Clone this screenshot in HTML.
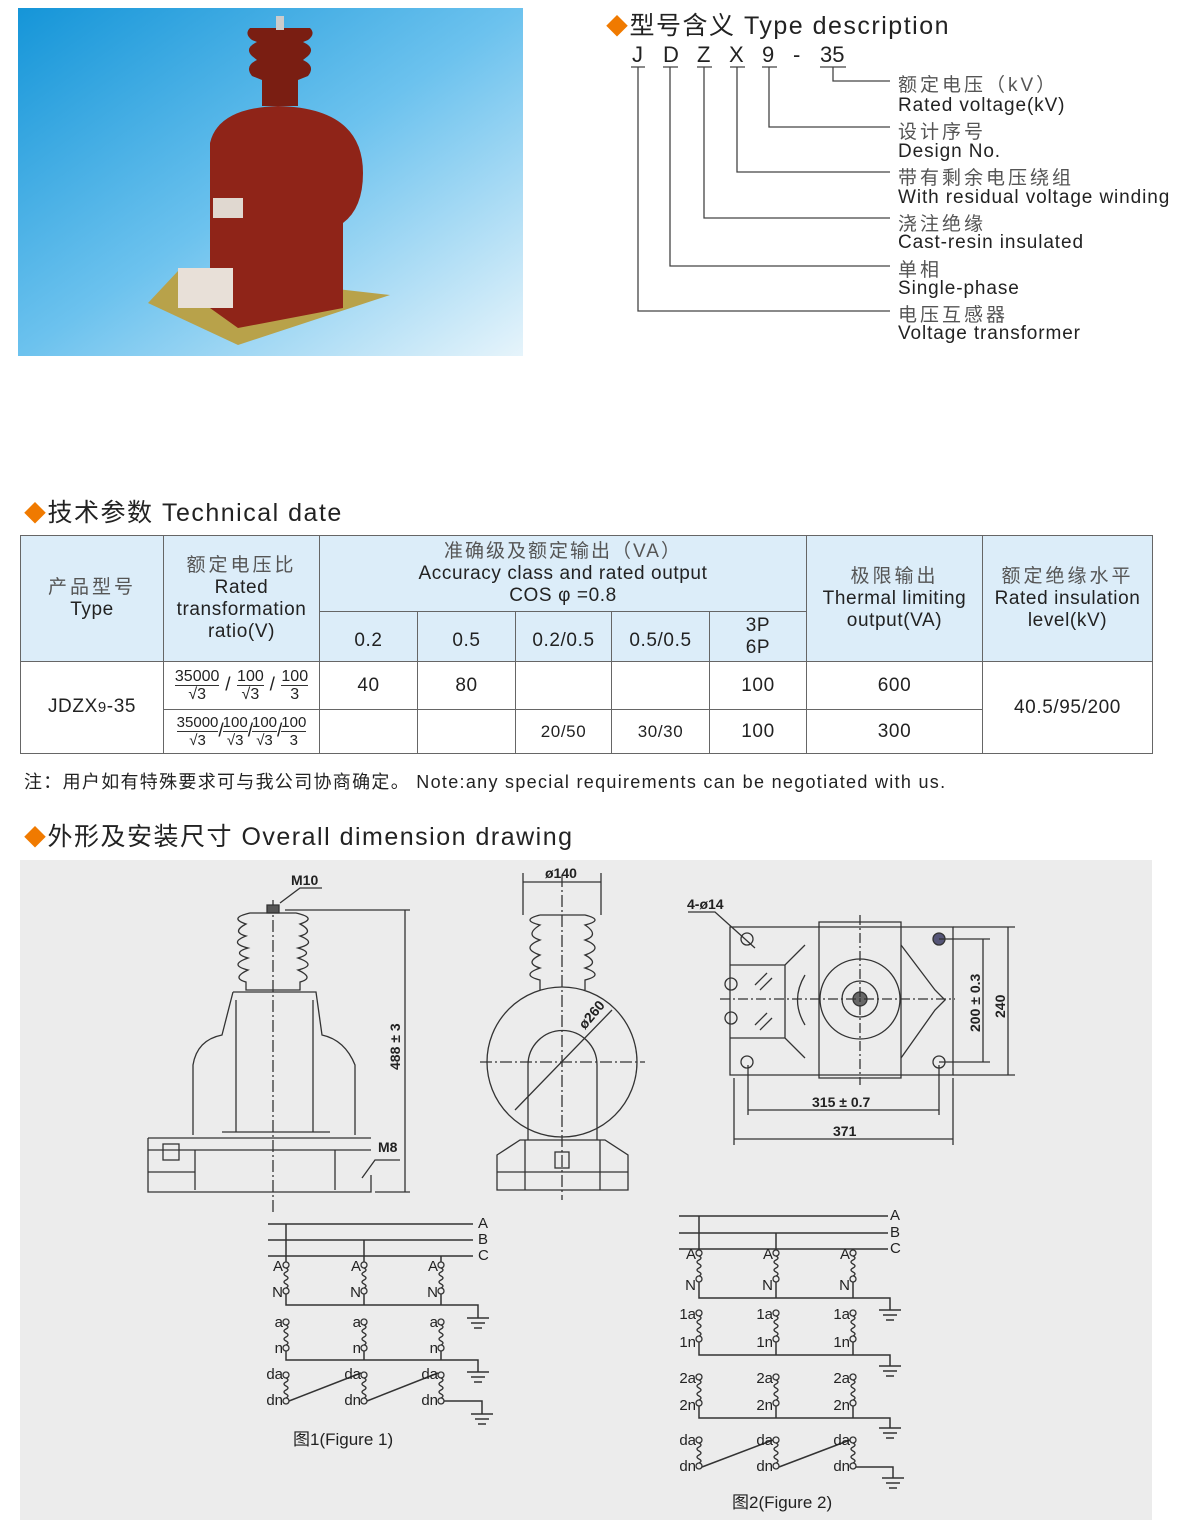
<!DOCTYPE html>
<html><head><meta charset="utf-8"><style>
body{margin:0;width:1200px;height:1520px;background:#fff;position:relative;overflow:hidden;font-family:"Liberation Sans","Noto Sans CJK SC",sans-serif;color:#222}
.a{position:absolute;white-space:nowrap}
.h{font-size:25px;color:#222;letter-spacing:1.5px}
.d{color:#f07a00;font-size:22px}
.lbl{font-size:19px;color:#222;letter-spacing:0.9px}
.cn{color:#555;letter-spacing:3px}
table{position:absolute;left:20px;top:535px;border-collapse:collapse;font-size:19px;color:#222;letter-spacing:0.6px}
td{border:1px solid #666;text-align:center;padding:0;line-height:22px}
.hd{background:#dcedf9}
.fr{display:inline-block;vertical-align:middle;text-align:center;font-size:16px;line-height:17px;letter-spacing:0}
.fr span{display:block;border-top:1px solid #333}
</style></head><body>

<!-- photo -->
<svg class="a" style="left:18px;top:8px" width="505" height="348">
<defs><linearGradient id="bg" x1="0" y1="0" x2="1" y2="1"><stop offset="0" stop-color="#1595d8"/><stop offset="0.5" stop-color="#6cc2ee"/><stop offset="1" stop-color="#e6f4fb"/></linearGradient></defs>
<rect width="505" height="348" fill="url(#bg)"/>
<polygon points="130,295 160,263 372,287 220,337" fill="#b8a24a"/>
<path d="M192,135 Q200,100 260,98 Q345,100 345,165 Q345,200 325,215 L325,300 L220,320 L192,300 Z" fill="#8f2418"/>
<rect x="160" y="260" width="55" height="40" fill="#e8e0d8"/>
<rect x="195" y="190" width="30" height="20" fill="#e0d8d0"/>
<path d="M232,20 L292,20 Q298,26 290,32 L285,34 Q298,40 290,48 L285,52 Q298,58 290,68 L280,72 L280,98 L244,98 L244,72 L234,68 Q226,58 239,52 L234,48 Q226,40 239,34 L234,32 Q226,26 232,20Z" fill="#7a1e12"/>
<rect x="258" y="8" width="8" height="14" fill="#ccc"/>
</svg>

<!-- type description -->
<div class="a h" style="left:606px;top:6px"><span class="d">◆</span>型号含义 Type description</div>
<div class="a" style="left:632px;top:42px;font-size:22px;color:#222">J</div>
<div class="a" style="left:663px;top:42px;font-size:22px">D</div>
<div class="a" style="left:697px;top:42px;font-size:22px">Z</div>
<div class="a" style="left:729px;top:42px;font-size:22px">X</div>
<div class="a" style="left:762px;top:42px;font-size:22px">9</div>
<div class="a" style="left:793px;top:42px;font-size:22px">-</div>
<div class="a" style="left:820px;top:42px;font-size:22px">35</div>
<svg class="a" style="left:0;top:0" width="1200" height="360">
<g stroke="#444" stroke-width="1.3" fill="none">
<path d="M631,67h14 M663,67h15 M697,67h15 M730,67h15 M762,67h15 M820,67h26"/>
<path d="M638,67V311H890 M670,67V266H890 M704,67V218H890 M737,67V172H890 M769,67V127H890 M833,67V81H890"/>
</g></svg>
<div class="a lbl cn" style="left:898px;top:70px">额定电压（kV）</div>
<div class="a lbl" style="left:898px;top:95px">Rated voltage(kV)</div>
<div class="a lbl cn" style="left:898px;top:117px">设计序号</div>
<div class="a lbl" style="left:898px;top:141px">Design No.</div>
<div class="a lbl cn" style="left:898px;top:163px">带有剩余电压绕组</div>
<div class="a lbl" style="left:898px;top:187px">With residual voltage winding</div>
<div class="a lbl cn" style="left:898px;top:209px">浇注绝缘</div>
<div class="a lbl" style="left:898px;top:232px">Cast-resin insulated</div>
<div class="a lbl cn" style="left:898px;top:255px">单相</div>
<div class="a lbl" style="left:898px;top:278px">Single-phase</div>
<div class="a lbl cn" style="left:898px;top:300px">电压互感器</div>
<div class="a lbl" style="left:898px;top:323px">Voltage transformer</div>

<div class="a h" style="left:24px;top:493px"><span class="d">◆</span>技术参数 Technical date</div>

<table>
<tr style="height:76px">
<td class="hd" rowspan="2" style="width:142px"><span style="color:#555;letter-spacing:3px">产品型号</span><br>Type</td>
<td class="hd" rowspan="2" style="width:155px"><span style="color:#555;letter-spacing:3px">额定电压比</span><br>Rated<br>transformation<br>ratio(V)</td>
<td class="hd" colspan="5"><span style="color:#555;letter-spacing:2px">准确级及额定输出（VA）</span><br>Accuracy class and rated output<br>COS φ =0.8</td>
<td class="hd" rowspan="2" style="width:175px"><span style="color:#555;letter-spacing:3px">极限输出</span><br>Thermal limiting<br>output(VA)</td>
<td class="hd" rowspan="2" style="width:169px"><span style="color:#555;letter-spacing:3px">额定绝缘水平</span><br>Rated insulation<br>level(kV)</td>
</tr>
<tr style="height:50px">
<td class="hd" style="width:97px;padding-top:8px">0.2</td><td class="hd" style="width:97px;padding-top:8px">0.5</td><td class="hd" style="width:95px;padding-top:8px">0.2/0.5</td><td class="hd" style="width:97px;padding-top:8px">0.5/0.5</td><td class="hd" style="width:96px">3P<br>6P</td>
</tr>
<tr style="height:48px">
<td rowspan="2">JDZX<span style="font-size:15px">9</span>-35</td>
<td><span class="fr">35000<span>√3</span></span> / <span class="fr">100<span>√3</span></span> / <span class="fr">100<span>3</span></span></td>
<td>40</td><td>80</td><td></td><td></td><td>100</td><td>600</td>
<td rowspan="2">40.5/95/200</td>
</tr>
<tr style="height:44px">
<td style="letter-spacing:-1px"><span class="fr" style="font-size:15px">35000<span>√3</span></span>/<span class="fr" style="font-size:15px">100<span>√3</span></span>/<span class="fr" style="font-size:15px">100<span>√3</span></span>/<span class="fr" style="font-size:15px">100<span>3</span></span></td>
<td></td><td></td><td style="font-size:17px">20/50</td><td style="font-size:17px">30/30</td><td>100</td><td>300</td>
</tr>
</table>

<div class="a" style="left:24px;top:768px;font-size:18px;letter-spacing:1.3px">注：用户如有特殊要求可与我公司协商确定。 Note:any special requirements can be negotiated with us.</div>
<div class="a h" style="left:24px;top:817px"><span class="d">◆</span>外形及安装尺寸 Overall dimension drawing</div>

<svg class="a" style="left:0;top:0" width="1200" height="1520" font-family="Liberation Sans, sans-serif">
<defs>
<g id="coil" fill="none" stroke="#333" stroke-width="1.3">
<circle cx="0" cy="0" r="3" fill="#ececec"/>
<path d="M0,3 q4,2 0,4 q-4,2 0,4 q4,2 0,4 q-4,2 0,4 q4,2 0,4"/>
<circle cx="0" cy="26" r="3" fill="#ececec"/>
</g>
<g id="gnd" stroke="#333" stroke-width="1.5"><path d="M-11,0h22 M-7,5h14 M-4,10h8"/></g>
</defs>
<rect x="20" y="860" width="1132" height="660" fill="#ececec"/>
<g stroke="#333" stroke-width="1.3" fill="none">
<!-- side view -->
<path d="M273,900V1215" stroke-dasharray="12,3,2,3"/>
<path d="M267,905h12v8h-12z" fill="#555"/>
<path d="M250,913 L296,913 Q318,918 300,924 Q315,932 300,936 Q318,943 298,948 Q315,953 298,958 Q318,965 298,970 Q315,978 300,982 L300,990 L246,990 L246,982 Q231,978 248,970 Q228,965 248,958 Q231,953 248,948 Q228,943 246,936 Q231,932 246,924 Q228,918 250,913Z"/>
<path d="M233,992 L316,992 L322,1035 Q345,1040 355,1065 L355,1135 M233,992 L222,1035 Q197,1040 193,1065 L193,1135"/>
<path d="M236,1000V1132 M313,1000V1132 M222,1132H330"/>
<path d="M148,1138H371 M148,1150H371 M148,1138V1192H371V1175 M195,1150V1190 M335,1150V1190 M148,1172H195"/>
<rect x="163" y="1144" width="16" height="16"/>
<path d="M280,903 L300,888 H322 M362,1178 L375,1160 H400"/>
<path d="M285,910H410 M375,1192H410 M405,910V1192"/>
<!-- front view -->
<path d="M562,875V1200" stroke-dasharray="12,3,2,3"/>
<path d="M480,1062H645" stroke-dasharray="12,3,2,3"/>
<path d="M523,873V915 M601,873V915 M523,882H601"/>
<path d="M540,915 L585,915 Q605,920 585,925 Q600,935 585,940 Q605,948 585,955 Q600,963 585,968 Q605,975 585,980 L585,990 M540,915 Q520,920 540,925 Q524,935 540,940 Q520,948 540,955 Q524,963 540,968 Q520,975 540,980 L540,990"/>
<circle cx="562" cy="1062" r="75"/>
<path d="M528,1140 V1065 A34,34 0 0,1 597,1065 V1140"/>
<path d="M515,1110 L612,1010"/>
<path d="M497,1155 L520,1140 H605 L628,1155 V1190 H497Z M497,1172H628 M525,1140V1190 M600,1140V1190"/>
<rect x="555" y="1152" width="14" height="16"/>
<!-- top view -->
<path d="M730,927H953V1075H730Z M819,922H901V1078H819Z"/>
<path d="M730,965H785L805,945 M730,1038H785L805,1058 M785,965V1038 M901,945 L935,990 L945,1000 L935,1010 L901,1058 M805,975 Q790,1000 805,1025"/>
<circle cx="860" cy="999" r="40"/><circle cx="860" cy="999" r="18"/><circle cx="860" cy="999" r="7" fill="#666"/>
<path d="M860,915V1085 M720,999H955" stroke-dasharray="10,3,2,3"/>
<circle cx="747" cy="939" r="6"/><circle cx="939" cy="939" r="6" fill="#557"/><circle cx="747" cy="1062" r="6"/><circle cx="939" cy="1062" r="6"/>
<circle cx="731" cy="984" r="6"/><circle cx="731" cy="1018" r="6"/>
<path d="M755,985l12,-12 M760,990l12,-12 M755,1025l12,-12 M760,1030l12,-12"/>
<path d="M688,912H715 L755,948"/>
<path d="M939,939H990 M939,1062H990 M983,939V1062 M953,927H1015 M953,1075H1015 M1008,927V1075"/>
<path d="M748,1065V1115 M939,1065V1115 M748,1110H939 M734,1078V1145 M953,1078V1145 M734,1139H953"/>
</g>
<g font-size="14" fill="#222" font-weight="bold">
<text x="291" y="885">M10</text><text x="378" y="1152">M8</text>
<text x="400" y="1070" transform="rotate(-90 400 1070)">488 ± 3</text>
<text x="545" y="878">ø140</text>
<text x="585" y="1030" transform="rotate(-50 585 1030)">ø260</text>
<text x="687" y="909">4-ø14</text>
<text x="812" y="1107">315 ± 0.7</text><text x="833" y="1136">371</text>
<text x="980" y="1032" transform="rotate(-90 980 1032)">200 ± 0.3</text>
<text x="1005" y="1018" transform="rotate(-90 1005 1018)">240</text>
</g>
<!-- figure 1 -->
<g stroke="#333" stroke-width="1.5" fill="none">
<path d="M268,1224H473 M268,1240H473 M268,1256H473"/>
<path d="M286,1224V1262 M364,1240V1262 M441,1256V1262"/>
<path d="M286,1294V1305H478V1318 M364,1294V1305 M441,1294V1305"/>
<path d="M286,1348V1360H478V1372 M364,1348V1360 M441,1348V1360"/>
<path d="M289,1401L361,1373 M367,1401L438,1373 M444,1401H482V1414"/>
</g>
<use href="#gnd" x="478" y="1318"/><use href="#gnd" x="478" y="1372"/><use href="#gnd" x="482" y="1414"/>
<use href="#coil" x="286" y="1265"/><use href="#coil" x="364" y="1265"/><use href="#coil" x="441" y="1265"/>
<use href="#coil" x="286" y="1322"/><use href="#coil" x="364" y="1322"/><use href="#coil" x="441" y="1322"/>
<use href="#coil" x="286" y="1375"/><use href="#coil" x="364" y="1375"/><use href="#coil" x="441" y="1375"/>
<g font-size="15" fill="#222" text-anchor="end">
<text x="478" y="1228" text-anchor="start">A</text><text x="478" y="1244" text-anchor="start">B</text><text x="478" y="1260" text-anchor="start">C</text>
<text x="283" y="1271">A</text><text x="361" y="1271">A</text><text x="438" y="1271">A</text>
<text x="283" y="1297">N</text><text x="361" y="1297">N</text><text x="438" y="1297">N</text>
<text x="283" y="1327">a</text><text x="361" y="1327">a</text><text x="438" y="1327">a</text>
<text x="283" y="1353">n</text><text x="361" y="1353">n</text><text x="438" y="1353">n</text>
<text x="283" y="1379">da</text><text x="361" y="1379">da</text><text x="438" y="1379">da</text>
<text x="283" y="1405">dn</text><text x="361" y="1405">dn</text><text x="438" y="1405">dn</text>
</g>
<text x="293" y="1445" font-size="17" fill="#222" font-family="Liberation Sans, Noto Sans CJK SC, sans-serif">图1(Figure 1)</text>
<!-- figure 2 -->
<g stroke="#333" stroke-width="1.5" fill="none">
<path d="M679,1216H888 M679,1233H888 M679,1249H888"/>
<path d="M699,1216V1250 M776,1233V1250 M853,1249V1250"/>
<path d="M699,1282V1298H890V1310 M776,1282V1298 M853,1282V1298"/>
<path d="M699,1342V1355H890V1366 M776,1342V1355 M853,1342V1355"/>
<path d="M699,1406V1418H890V1428 M776,1406V1418 M853,1406V1418"/>
<path d="M702,1467L773,1440 M779,1467L850,1440 M856,1467H893V1478"/>
</g>
<use href="#gnd" x="890" y="1310"/><use href="#gnd" x="890" y="1366"/><use href="#gnd" x="890" y="1428"/><use href="#gnd" x="893" y="1478"/>
<use href="#coil" x="699" y="1253"/><use href="#coil" x="776" y="1253"/><use href="#coil" x="853" y="1253"/>
<use href="#coil" x="699" y="1313"/><use href="#coil" x="776" y="1313"/><use href="#coil" x="853" y="1313"/>
<use href="#coil" x="699" y="1377"/><use href="#coil" x="776" y="1377"/><use href="#coil" x="853" y="1377"/>
<use href="#coil" x="699" y="1440"/><use href="#coil" x="776" y="1440"/><use href="#coil" x="853" y="1440"/>
<g font-size="15" fill="#222" text-anchor="end">
<text x="890" y="1220" text-anchor="start">A</text><text x="890" y="1237" text-anchor="start">B</text><text x="890" y="1253" text-anchor="start">C</text>
<text x="696" y="1259">A</text><text x="773" y="1259">A</text><text x="850" y="1259">A</text>
<text x="696" y="1290">N</text><text x="773" y="1290">N</text><text x="850" y="1290">N</text>
<text x="696" y="1319">1a</text><text x="773" y="1319">1a</text><text x="850" y="1319">1a</text>
<text x="696" y="1347">1n</text><text x="773" y="1347">1n</text><text x="850" y="1347">1n</text>
<text x="696" y="1383">2a</text><text x="773" y="1383">2a</text><text x="850" y="1383">2a</text>
<text x="696" y="1410">2n</text><text x="773" y="1410">2n</text><text x="850" y="1410">2n</text>
<text x="696" y="1445">da</text><text x="773" y="1445">da</text><text x="850" y="1445">da</text>
<text x="696" y="1471">dn</text><text x="773" y="1471">dn</text><text x="850" y="1471">dn</text>
</g>
<text x="732" y="1508" font-size="17" fill="#222" font-family="Liberation Sans, Noto Sans CJK SC, sans-serif">图2(Figure 2)</text>
</svg>
</body></html>
